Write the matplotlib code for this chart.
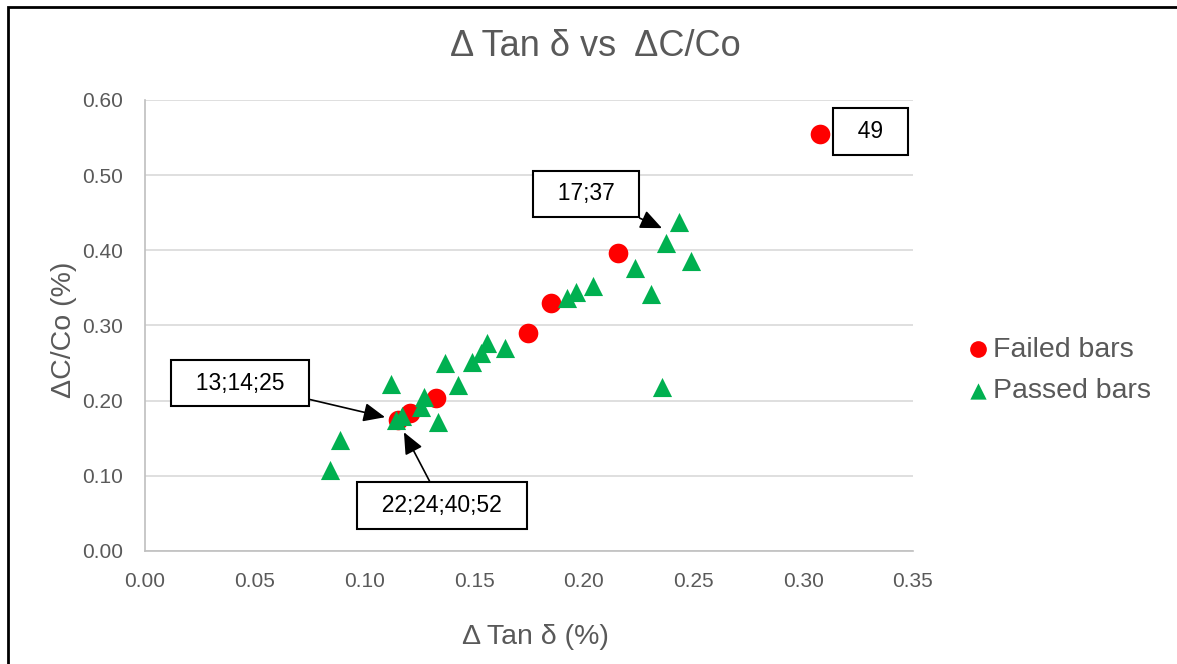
import matplotlib
matplotlib.use("Agg")
import matplotlib.pyplot as plt
from matplotlib.patches import Rectangle

plt.rcParams["font.family"] = ["Liberation Sans", "DejaVu Sans"]

# failed bars (red circles)
failed_x = [0.3077, 0.2156, 0.1850, 0.1746, 0.1326, 0.1208, 0.1153]
failed_y = [0.5545, 0.3960, 0.3300, 0.2900, 0.2035, 0.1835, 0.1740]

# passed bars (green triangles)
passed_x = [0.0843, 0.0889, 0.1121, 0.1144, 0.1170, 0.1260, 0.1270, 0.1335,
            0.1427, 0.1367, 0.1490, 0.1530, 0.1560, 0.1640, 0.1923, 0.1964,
            0.2042, 0.2233, 0.2306, 0.2356, 0.2375, 0.2434, 0.2489]
passed_y = [0.108, 0.148, 0.222, 0.174, 0.179, 0.192, 0.205, 0.172,
            0.221, 0.250, 0.251, 0.264, 0.277, 0.270, 0.336, 0.344,
            0.352, 0.377, 0.342, 0.218, 0.410, 0.438, 0.386]

# callouts: label, box centre, arrow target (None = no arrow)
callouts = [
    ("49", (0.3305, 0.5585), None),
    ("17;37", (0.2010, 0.4750), (0.2356, 0.4295)),
    ("13;14;25", (0.0433, 0.2234), (0.1094, 0.1780)),
    ("22;24;40;52", (0.1354, 0.0610), (0.1180, 0.1580)),
]

x_ticks = [0.00, 0.05, 0.10, 0.15, 0.20, 0.25, 0.30, 0.35]
y_ticks = [0.00, 0.10, 0.20, 0.30, 0.40, 0.50, 0.60]

grey = "#595959"

fig = plt.figure(figsize=(11.77, 6.64), dpi=100)
ax = fig.add_axes([0.1232, 0.1702, 0.6525, 0.6792])

ax.scatter(failed_x, failed_y, s=200, marker="o", color="#FF0000",
           label="Failed bars", zorder=3, linewidths=0)
ax.scatter(passed_x, passed_y, s=190, marker="^", color="#00B050",
           label="Passed bars", zorder=4, linewidths=0)

ax.set_xlim(0, 0.35)
ax.set_ylim(0, 0.60)
ax.set_xticks(x_ticks)
ax.set_yticks(y_ticks)
ax.set_xticklabels([f"{v:.2f}" for v in x_ticks])
ax.set_yticklabels([f"{v:.2f}" for v in y_ticks])
ax.tick_params(length=0, labelsize=15, colors=grey)
ax.tick_params(axis="y", pad=16)
ax.tick_params(axis="x", pad=15)
ax.grid(axis="y", color="#D9D9D9", linewidth=1.2)
ax.set_axisbelow(True)
for side in ["top", "right"]:
    ax.spines[side].set_visible(False)
for side in ["left", "bottom"]:
    ax.spines[side].set_color("#BFBFBF")
    ax.spines[side].set_linewidth(1.2)

fig.text(0.5055, 1 - 47 / 664, "Δ Tan δ vs  ΔC/Co", fontsize=26, color=grey,
         ha="center", va="center")
ax.set_xlabel("Δ Tan δ (%)", fontsize=20.5, color=grey)
ax.set_ylabel("ΔC/Co (%)", fontsize=20.5, color=grey)
ax.xaxis.set_label_coords(0.509, -0.163)
ax.yaxis.set_label_coords(-0.089, 0.49)

for label, pos, target in callouts:
    box = dict(boxstyle="square,pad=0.52", fc="white", ec="black", lw=1.5)
    text = "  " + label + "  "
    if target is None:
        ax.text(pos[0], pos[1], text, fontsize=16.5, ha="center", va="center",
                bbox=box, zorder=5)
    else:
        ax.annotate(text, xy=target, xytext=pos, fontsize=16.5,
                    ha="center", va="center", bbox=box, zorder=5,
                    arrowprops=dict(arrowstyle="-|>,head_length=0.8,head_width=0.35",
                                    color="black", lw=1.2, shrinkA=0, shrinkB=0))

leg = ax.legend(loc="center left", bbox_to_anchor=(1.035, 0.4), frameon=False,
                fontsize=20.5, handletextpad=0.05, markerscale=0.85,
                labelspacing=0.55, handlelength=0.9)
for t in leg.get_texts():
    t.set_color(grey)

fig.patches.append(Rectangle((8 / 1177, -0.05), 1.1, 1 - 7 / 664 + 0.05,
                             transform=fig.transFigure, fill=False,
                             ec="black", lw=2, zorder=0))

fig.savefig("out.png", dpi=100)
